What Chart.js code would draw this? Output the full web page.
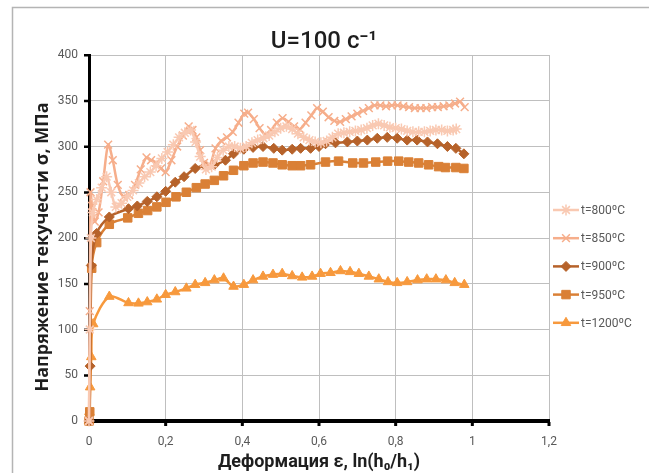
<!DOCTYPE html>
<html><head><meta charset="utf-8">
<script src="https://cdn.jsdelivr.net/npm/chart.js@4.4.0/dist/chart.umd.min.js"></script>
<style>
html,body{margin:0;padding:0;background:#fff;overflow:hidden}
#wrap{position:relative;width:649px;height:473px}
canvas{display:block}
</style></head><body>
<div id="wrap"><canvas id="c" width="649" height="473"></canvas></div>
<script>
const chartTitle = 'U=100 c⁻¹';
const xAxisTitle = 'Деформация ε, ln(h₀/h₁)';
const yAxisTitle = 'Напряжение текучести σ, МПа';
const seriesNames = ['t=800ºC', 't=850ºC', 't=900ºC', 't=950ºC', 't=1200ºC'];
const xTickLabels = ['0', '0,2', '0,4', '0,6', '0,8', '1', '1,2'];
const yTickLabels = ['0', '50', '100', '150', '200', '250', '300', '350', '400'];

const x800 = [0, 0.002, 0.005, 0.01, 0.02, 0.033, 0.046, 0.058, 0.07, 0.085, 0.1, 0.115, 0.13, 0.145, 0.16, 0.175, 0.19, 0.205, 0.22, 0.235, 0.25, 0.265, 0.278, 0.29, 0.305, 0.32, 0.335, 0.35, 0.365, 0.38, 0.395, 0.41, 0.425, 0.44, 0.455, 0.47, 0.485, 0.5, 0.515, 0.53, 0.545, 0.56, 0.575, 0.59, 0.605, 0.62, 0.635, 0.65, 0.665, 0.68, 0.695, 0.71, 0.725, 0.74, 0.755, 0.77, 0.785, 0.8, 0.815, 0.83, 0.845, 0.86, 0.875, 0.89, 0.905, 0.92, 0.935, 0.95, 0.958];
const y800 = [0, 100, 200, 228, 242, 255, 267, 250, 234, 238, 245, 252, 260, 267, 272, 279, 287, 294, 302, 310, 315, 318, 305, 289, 275, 278, 288, 296, 300, 300, 298, 300, 304, 307, 309, 312, 316, 320, 322, 319, 314, 310, 307, 305, 304, 306, 310, 314, 315, 316, 317, 318, 320, 323, 325, 323, 321, 320, 319, 317, 316, 316, 316, 317, 318, 318, 317, 318, 319];

const x850 = [0, 0.002, 0.004, 0.008, 0.015, 0.025, 0.037, 0.05, 0.062, 0.075, 0.09, 0.105, 0.12, 0.135, 0.15, 0.162, 0.175, 0.188, 0.2, 0.215, 0.23, 0.245, 0.26, 0.27, 0.28, 0.29, 0.3, 0.315, 0.33, 0.345, 0.36, 0.375, 0.39, 0.405, 0.415, 0.43, 0.445, 0.46, 0.475, 0.49, 0.505, 0.52, 0.535, 0.55, 0.565, 0.58, 0.595, 0.61, 0.625, 0.64, 0.655, 0.67, 0.685, 0.7, 0.715, 0.73, 0.745, 0.76, 0.775, 0.79, 0.805, 0.82, 0.835, 0.85, 0.865, 0.88, 0.895, 0.91, 0.925, 0.94, 0.955, 0.968, 0.98];
const y850 = [0, 120, 250, 235, 218, 228, 262, 302, 285, 258, 245, 247, 258, 275, 288, 285, 282, 276, 272, 285, 300, 312, 322, 318, 310, 296, 282, 280, 298, 306, 310, 316, 326, 336, 337, 330, 320, 313, 318, 326, 331, 327, 322, 319, 326, 334, 342, 338, 332, 328, 327, 330, 333, 336, 339, 342, 345, 345, 344, 345, 345, 344, 343, 342, 342, 342, 343, 343, 344, 345, 347, 349, 343];

const x900 = [0, 0.003, 0.006, 0.02, 0.053, 0.103, 0.126, 0.152, 0.177, 0.2, 0.225, 0.248, 0.277, 0.303, 0.327, 0.356, 0.377, 0.404, 0.428, 0.454, 0.482, 0.504, 0.53, 0.552, 0.578, 0.6, 0.617, 0.643, 0.674, 0.7, 0.726, 0.752, 0.778, 0.804, 0.83, 0.856, 0.883, 0.909, 0.935, 0.957, 0.978];
const y900 = [0, 60, 170, 205, 223, 232, 235, 240, 245, 251, 261, 267, 276, 279, 280, 285, 292, 297, 299, 300, 298, 296, 297, 298, 298, 300, 303, 304, 305, 306, 307, 309, 310, 309, 307, 307, 305, 303, 300, 298, 292];

const x950 = [0, 0.002, 0.007, 0.02, 0.053, 0.101, 0.129, 0.153, 0.177, 0.201, 0.227, 0.254, 0.28, 0.303, 0.327, 0.351, 0.377, 0.404, 0.428, 0.454, 0.48, 0.504, 0.53, 0.552, 0.578, 0.617, 0.651, 0.688, 0.716, 0.748, 0.779, 0.808, 0.834, 0.86, 0.886, 0.912, 0.93, 0.957, 0.978];
const y950 = [0, 10, 167, 195, 215, 222, 227, 230, 234, 239, 245, 250, 255, 259, 263, 268, 274, 279, 282, 283, 282, 280, 279, 279, 280, 283, 284, 282, 282, 283, 284, 284, 283, 282, 280, 278, 277, 277, 276];

const x1200 = [0, 0.001, 0.003, 0.006, 0.011, 0.053, 0.103, 0.129, 0.152, 0.177, 0.2, 0.225, 0.254, 0.277, 0.303, 0.327, 0.351, 0.377, 0.404, 0.428, 0.454, 0.48, 0.504, 0.53, 0.556, 0.582, 0.604, 0.63, 0.656, 0.681, 0.704, 0.73, 0.756, 0.78, 0.804, 0.83, 0.857, 0.881, 0.905, 0.931, 0.954, 0.979];
const y1200 = [0, 10, 37, 70, 106, 136, 129, 128.6, 130, 133, 138, 141, 145, 149, 151, 154, 156, 147, 149, 154, 158, 160, 161, 158.5, 157, 158, 161, 162, 164, 163, 161, 158, 155, 152, 151, 152, 154, 155, 155, 154, 151, 149];

const seriesX = [x800, x850, x900, x950, x1200];
const seriesY = [y800, y850, y900, y950, y1200];
const styles = [
  {color: '#F9C9B2', point: 'star', radius: 5.5, width: 2.5, pbw: 1.5},
  {color: '#F6AE8B', point: 'crossRot', radius: 5.5, width: 2.5, pbw: 1.5},
  {color: '#B6622A', point: 'rectRot', radius: 5, width: 2.5, pbw: 1},
  {color: '#DA8036', point: 'rect', radius: 6, width: 2.5, pbw: 1},
  {color: '#F7993D', point: 'triangle', radius: 5.5, width: 2.5, pbw: 1}
];

const datasets = seriesNames.map((name, i) => ({
  label: name,
  data: seriesX[i].map((x, j) => ({x: x, y: seriesY[i][j]})),
  borderColor: styles[i].color,
  backgroundColor: styles[i].color,
  pointBackgroundColor: styles[i].color,
  pointBorderColor: styles[i].color,
  pointStyle: styles[i].point,
  pointRadius: styles[i].radius,
  pointBorderWidth: styles[i].pbw,
  borderWidth: styles[i].width,
  tension: 0.3,
  fill: false,
  clip: false
}));

const deco = {
  id: 'deco',
  beforeDraw(chart) {
    const ctx = chart.ctx;
    ctx.save();
    ctx.strokeStyle = '#B4B4B4';
    ctx.lineWidth = 1.5;
    ctx.beginPath();
    ctx.moveTo(12.5, 480);
    ctx.lineTo(12.5, 7.5);
    ctx.lineTo(660, 7.5);
    ctx.stroke();
    ctx.restore();
  },
  beforeDatasetsDraw(chart) {
    const ctx = chart.ctx;
    const xs = chart.scales.x, ys = chart.scales.y;
    ctx.save();
    ctx.fillStyle = '#000';
    ys.ticks.forEach(t => {
      const py = ys.getPixelForValue(t.value);
      ctx.fillRect(xs.left - 5, py - 1, 4, 2.5);
    });
    xs.ticks.forEach(t => {
      const px = xs.getPixelForValue(t.value);
      ctx.fillRect(px - 1.5, ys.bottom + 1, 3, 4);
    });
    ctx.restore();
  },
  afterDraw(chart) {
    const ctx = chart.ctx;
    ctx.save();
    ctx.fillStyle = '#1E1E1E';
    ctx.font = '500 24px Roboto';
    ctx.textAlign = 'center';
    ctx.textBaseline = 'alphabetic';
    ctx.fillText(chartTitle, 324, 48);
    chart.data.datasets.forEach((ds, i) => {
      const y = 210 + i * 28.2;
      ctx.strokeStyle = ds.borderColor;
      ctx.fillStyle = ds.borderColor;
      ctx.lineWidth = ds.borderWidth;
      ctx.beginPath();
      ctx.moveTo(553, y);
      ctx.lineTo(579, y);
      ctx.stroke();
      ctx.lineWidth = ds.pointBorderWidth;
      Chart.helpers.drawPoint(ctx, {pointStyle: ds.pointStyle, radius: ds.pointRadius, rotation: 0, borderWidth: ds.pointBorderWidth}, 566, y);
      ctx.fillStyle = '#595959';
      ctx.font = '12px Roboto';
      ctx.textAlign = 'left';
      ctx.textBaseline = 'middle';
      ctx.fillText(ds.label, 581, y + 1);
    });
    ctx.restore();
  }
};

new Chart(document.getElementById('c'), {
  type: 'line',
  data: {datasets: datasets},
  options: {
    responsive: false,
    animation: false,
    devicePixelRatio: 1,
    layout: {padding: {left: 12, top: 55, right: 100, bottom: 0}},
    plugins: {legend: {display: false}, tooltip: {enabled: false}, title: {display: false}},
    scales: {
      x: {
        type: 'linear', min: 0, max: 1.2,
        afterFit: s => { s.height = 52; },
        ticks: {stepSize: 0.2, autoSkip: false, maxRotation: 0, padding: 14, color: '#595959',
          font: {family: 'Roboto', size: 12},
          callback: (v, i) => xTickLabels[i]},
        grid: {color: '#BFBFBF', lineWidth: 1, drawTicks: false},
        border: {color: '#000', width: 4},
        title: {display: true, text: xAxisTitle, color: '#1E1E1E', padding: 0,
          font: {family: 'Roboto', size: 18, weight: 'bold'}}
      },
      y: {
        type: 'linear', min: 0, max: 400,
        afterFit: s => { s.width = 77; },
        ticks: {stepSize: 50, padding: 11, color: '#595959',
          font: {family: 'Roboto', size: 12},
          callback: (v, i) => yTickLabels[i]},
        grid: {color: '#BFBFBF', lineWidth: 1, drawTicks: false},
        border: {color: '#000', width: 3},
        title: {display: true, text: yAxisTitle + '\u2003', color: '#1E1E1E', padding: 20,
          font: {family: 'Open Sans', size: 18, weight: 'bold'}}
      }
    }
  },
  plugins: [deco]
});
</script>
</body></html>
